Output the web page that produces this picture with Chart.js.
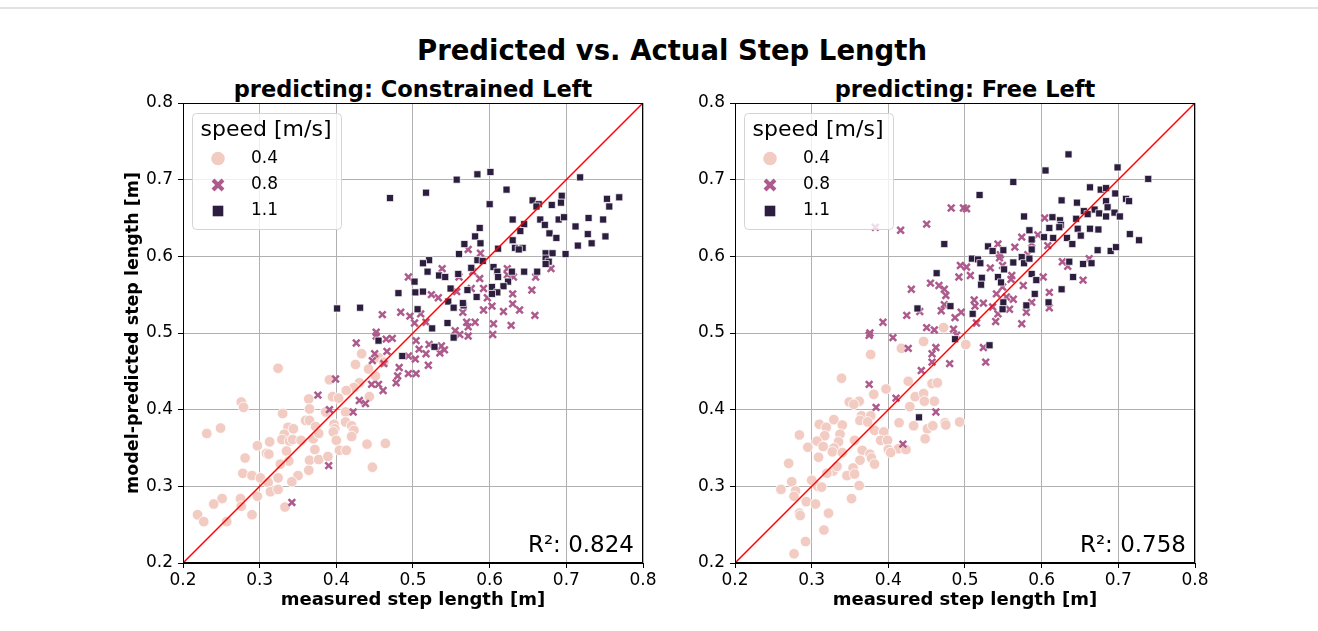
<!DOCTYPE html>
<html>
<head>
<meta charset="utf-8">
<script src="https://cdn.jsdelivr.net/npm/chart.js@4.4.0/dist/chart.umd.min.js"></script>
<style>
  body { margin: 0; background: #fff; font-family: "DejaVu Sans", sans-serif; }
  #page { position: relative; width: 1318px; height: 631px; overflow: hidden; }
  .frame { position: absolute; left: 0; top: 7px; width: 1318px; border-top: 2px solid #e2e2e2; }
  .txt { position: absolute; white-space: nowrap; line-height: 1; font-weight: bold; color: #000; transform: translateX(-50%); }
  canvas { position: absolute; top: 0; }
</style>
</head>
<body>
<div id="page">
  <div class="frame"></div>
  <div class="txt" style="left:672px;top:37px;font-size:27.5px">Predicted vs. Actual Step Length</div>
  <div class="txt" style="left:413px;top:78px;font-size:22.5px">predicting: Constrained Left</div>
  <div class="txt" style="left:965px;top:78px;font-size:22.5px">predicting: Free Left</div>
  <canvas id="leftChart" width="660" height="631" style="left:0"></canvas>
  <canvas id="rightChart" width="659" height="631" style="left:659px"></canvas>
</div>
<script>
// tick values / labels, shared by both panels
const axisTicks = [0.2, 0.3, 0.4, 0.5, 0.6, 0.7, 0.8];
const speeds = ['0.4', '0.8', '1.1'];
const r2Values = ['0.824', '0.758'];
const diagonal = [0.2, 0.8];

// [measured, predicted] per speed, left panel (Constrained Left)
const constrained04 = [
  [0.324,0.454],[0.433,0.473],[0.425,0.459],[0.442,0.453],[0.451,0.444],[0.391,0.439],[0.430,0.435],
  [0.423,0.429],[0.413,0.425],[0.443,0.417],[0.395,0.417],[0.403,0.415],[0.364,0.414],[0.276,0.410],
  [0.279,0.403],[0.365,0.401],[0.386,0.397],[0.412,0.397],[0.330,0.395],[0.360,0.386],[0.365,0.386],
  [0.373,0.378],[0.397,0.381],[0.412,0.384],[0.420,0.379],[0.423,0.373],[0.398,0.375],[0.396,0.371],
  [0.231,0.369],[0.249,0.376],[0.337,0.377],[0.344,0.375],[0.332,0.368],[0.329,0.361],[0.339,0.359],
  [0.343,0.361],[0.354,0.360],[0.370,0.362],[0.377,0.369],[0.420,0.365],[0.400,0.360],[0.440,0.355],
  [0.464,0.356],[0.313,0.358],[0.297,0.353],[0.309,0.343],[0.312,0.342],[0.335,0.346],[0.372,0.348],
  [0.404,0.347],[0.413,0.347],[0.281,0.337],[0.338,0.333],[0.365,0.334],[0.377,0.335],[0.389,0.339],
  [0.327,0.329],[0.364,0.321],[0.350,0.314],[0.447,0.325],[0.278,0.317],[0.290,0.314],[0.301,0.311],
  [0.324,0.311],[0.311,0.305],[0.342,0.306],[0.297,0.287],[0.314,0.293],[0.324,0.296],[0.275,0.284],
  [0.251,0.284],[0.276,0.274],[0.240,0.277],[0.290,0.263],[0.333,0.273],[0.219,0.263],[0.227,0.254],
  [0.257,0.254],[0.455,0.468],[0.462,0.462]
];
const constrained08 = [
  [0.494,0.573],[0.460,0.524],[0.484,0.527],[0.496,0.522],[0.452,0.501],
  [0.572,0.609],[0.588,0.604],[0.538,0.584],[0.560,0.573],[0.578,0.580],[0.587,0.571],[0.623,0.584],
  [0.623,0.576],[0.631,0.573],[0.660,0.573],[0.680,0.584],[0.655,0.556],[0.630,0.551],[0.592,0.558],
  [0.597,0.546],[0.576,0.558],[0.557,0.554],[0.524,0.550],[0.533,0.546],[0.630,0.538],[0.639,0.530],
  [0.659,0.523],[0.618,0.528],[0.603,0.535],[0.592,0.530],[0.565,0.527],[0.581,0.514],[0.570,0.514],
  [0.572,0.508],[0.605,0.512],[0.628,0.510],[0.510,0.525],[0.517,0.514],[0.502,0.513],[0.555,0.503],
  [0.426,0.487],[0.452,0.496],[0.465,0.492],[0.473,0.493],[0.450,0.473],[0.466,0.476],[0.447,0.464],
  [0.462,0.460],[0.494,0.470],[0.482,0.455],[0.480,0.444],[0.494,0.447],[0.478,0.435],[0.446,0.433],
  [0.455,0.433],[0.461,0.425],[0.399,0.440],[0.376,0.419],[0.430,0.412],[0.438,0.408],[0.391,0.400],
  [0.422,0.397],[0.390,0.327],[0.342,0.279],
  [0.504,0.490],[0.521,0.485],[0.508,0.479],[0.517,0.473],[0.537,0.483],[0.535,0.474],[0.541,0.478],
  [0.503,0.466],[0.520,0.458],[0.504,0.447],[0.572,0.496],[0.604,0.498],[0.561,0.498]
];
const constrained11 = [
  [0.470,0.676],[0.481,0.552],[0.401,0.532],[0.431,0.533],[0.455,0.490],[0.486,0.470],[0.553,0.494],
  [0.528,0.482],[0.557,0.700],[0.584,0.707],[0.601,0.710],[0.517,0.683],[0.718,0.703],[0.622,0.687],
  [0.600,0.668],[0.694,0.679],[0.693,0.670],[0.656,0.673],[0.664,0.668],[0.661,0.665],[0.681,0.667],
  [0.753,0.675],[0.769,0.677],[0.756,0.665],[0.630,0.648],[0.645,0.642],[0.666,0.648],[0.690,0.648],
  [0.697,0.651],[0.729,0.650],[0.748,0.648],[0.672,0.641],[0.712,0.639],[0.587,0.637],[0.640,0.633],
  [0.678,0.630],[0.687,0.624],[0.728,0.629],[0.751,0.626],[0.733,0.617],[0.715,0.614],[0.581,0.626],
  [0.567,0.616],[0.588,0.617],[0.630,0.621],[0.633,0.611],[0.643,0.611],[0.638,0.609],[0.611,0.610],
  [0.560,0.603],[0.584,0.595],[0.591,0.594],[0.673,0.604],[0.682,0.604],[0.699,0.603],[0.673,0.597],
  [0.677,0.593],[0.673,0.590],[0.521,0.595],[0.513,0.591],[0.519,0.580],[0.534,0.575],[0.542,0.573],
  [0.576,0.585],[0.605,0.586],[0.610,0.580],[0.611,0.573],[0.629,0.580],[0.645,0.580],[0.662,0.580],
  [0.624,0.567],[0.618,0.561],[0.603,0.560],[0.610,0.553],[0.603,0.551],[0.549,0.558],[0.571,0.556],
  [0.502,0.567],[0.503,0.553],[0.513,0.554],[0.583,0.547],[0.546,0.541],[0.566,0.536],[0.553,0.533],
  [0.506,0.531],[0.545,0.513],[0.525,0.506],[0.559,0.577],[0.565,0.539]
];

// right panel (Free Left)
const free04 = [
  [0.377,0.472],[0.417,0.480],[0.446,0.489],[0.339,0.441],[0.397,0.427],[0.381,0.420],[0.426,0.437],
  [0.435,0.417],[0.446,0.421],[0.457,0.434],[0.464,0.435],[0.460,0.411],[0.447,0.411],[0.428,0.404],
  [0.349,0.410],[0.362,0.411],[0.355,0.407],[0.365,0.392],[0.377,0.392],[0.363,0.386],[0.373,0.384],
  [0.310,0.381],[0.329,0.387],[0.340,0.380],[0.319,0.377],[0.414,0.383],[0.433,0.379],[0.451,0.375],
  [0.458,0.379],[0.474,0.383],[0.475,0.380],[0.493,0.384],[0.382,0.373],[0.394,0.371],[0.284,0.367],
  [0.317,0.366],[0.337,0.368],[0.307,0.359],[0.335,0.358],[0.356,0.360],[0.390,0.360],[0.399,0.360],
  [0.448,0.362],[0.295,0.351],[0.315,0.352],[0.329,0.350],[0.413,0.349],[0.423,0.348],[0.400,0.348],
  [0.327,0.345],[0.340,0.344],[0.366,0.347],[0.403,0.344],[0.376,0.342],[0.309,0.338],[0.363,0.334],
  [0.378,0.337],[0.382,0.329],[0.270,0.330],[0.328,0.320],[0.333,0.326],[0.320,0.317],[0.354,0.324],
  [0.346,0.314],[0.356,0.316],[0.274,0.306],[0.300,0.308],[0.308,0.300],[0.313,0.299],[0.362,0.301],
  [0.260,0.296],[0.279,0.294],[0.277,0.287],[0.293,0.280],[0.305,0.277],[0.352,0.284],[0.284,0.265],
  [0.285,0.262],[0.322,0.265],[0.316,0.243],[0.292,0.228],[0.277,0.212],[0.472,0.507],[0.501,0.485]
];
const free08 = [
  [0.482,0.663],[0.498,0.663],[0.450,0.642],[0.416,0.634],[0.383,0.638],[0.494,0.588],[0.492,0.573],
  [0.455,0.565],[0.466,0.562],[0.430,0.557],[0.473,0.557],[0.475,0.549],[0.473,0.537],[0.469,0.529],
  [0.495,0.527],[0.441,0.528],[0.424,0.523],[0.393,0.514],[0.487,0.520],[0.450,0.507],[0.460,0.504],
  [0.376,0.500],[0.485,0.505],
  [0.502,0.662],[0.604,0.650],[0.595,0.628],[0.574,0.625],[0.565,0.612],[0.543,0.616],[0.587,0.617],
  [0.608,0.614],[0.546,0.602],[0.545,0.598],[0.582,0.602],[0.549,0.588],[0.533,0.585],[0.502,0.586],
  [0.507,0.575],[0.561,0.575],[0.560,0.570],[0.602,0.573],[0.627,0.593],[0.634,0.587],[0.662,0.597],
  [0.654,0.569],[0.576,0.562],[0.549,0.560],[0.541,0.551],[0.554,0.547],[0.563,0.544],[0.610,0.553],
  [0.512,0.543],[0.513,0.535],[0.524,0.539],[0.536,0.534],[0.558,0.531],[0.587,0.540],[0.610,0.533],
  [0.580,0.527],[0.543,0.525],[0.540,0.515],[0.515,0.513],[0.574,0.512],
  [0.375,0.497],[0.406,0.494],[0.426,0.480],[0.462,0.481],[0.457,0.473],[0.457,0.462],[0.480,0.460],
  [0.443,0.451],[0.375,0.433],[0.410,0.415],[0.384,0.403],[0.462,0.397],[0.419,0.355],[0.489,0.497],
  [0.524,0.481],[0.527,0.462]
];
const free11 = [
  [0.473,0.616],[0.463,0.578],[0.438,0.532],[0.481,0.535],[0.440,0.390],[0.487,0.492],[0.532,0.484],
  [0.635,0.733],[0.699,0.716],[0.605,0.712],[0.739,0.701],[0.563,0.697],[0.519,0.680],[0.663,0.690],
  [0.677,0.687],[0.684,0.689],[0.696,0.682],[0.626,0.673],[0.646,0.670],[0.684,0.672],[0.710,0.675],
  [0.714,0.672],[0.686,0.664],[0.669,0.661],[0.675,0.656],[0.695,0.657],[0.684,0.652],[0.702,0.652],
  [0.655,0.659],[0.645,0.649],[0.660,0.655],[0.577,0.652],[0.614,0.651],[0.624,0.647],[0.625,0.641],
  [0.623,0.638],[0.610,0.637],[0.647,0.636],[0.663,0.636],[0.674,0.635],[0.651,0.627],[0.584,0.634],
  [0.587,0.622],[0.603,0.625],[0.615,0.624],[0.633,0.624],[0.640,0.616],[0.715,0.629],[0.727,0.621],
  [0.673,0.608],[0.690,0.607],[0.697,0.612],[0.530,0.613],[0.536,0.607],[0.550,0.608],[0.587,0.609],
  [0.509,0.597],[0.517,0.596],[0.520,0.591],[0.563,0.592],[0.574,0.599],[0.577,0.591],[0.584,0.597],
  [0.551,0.583],[0.636,0.593],[0.654,0.590],[0.665,0.591],[0.522,0.572],[0.543,0.573],[0.587,0.577],
  [0.593,0.569],[0.641,0.573],[0.521,0.563],[0.547,0.566],[0.626,0.557],[0.591,0.551],[0.550,0.540],
  [0.609,0.540],[0.549,0.531],[0.580,0.536],[0.510,0.525]
];

const fontFamily = '"DejaVu Sans", sans-serif';
const speedColors = { '0.4': '#f2cbc2', '0.8': '#ad5a8c', '1.1': '#2d1e3f' };

function speedDataset(points, speed, order) {
  const base = {
    label: speed,
    data: points.map(([x, y]) => ({ x, y })),
    order: order,
    pointBackgroundColor: speedColors[speed],
    pointHoverRadius: 0
  };
  if (speed === '0.4') {
    return Object.assign(base, { pointStyle: 'circle', pointRadius: 5.3, pointBorderColor: '#ffffff', pointBorderWidth: 0.8 });
  }
  if (speed === '0.8') {
    return Object.assign(base, { pointStyle: 'crossRot', pointRadius: 4.7, pointBorderColor: speedColors[speed], pointBorderWidth: 2.5 });
  }
  return Object.assign(base, { pointStyle: 'rect', pointRadius: 5, pointBorderColor: 'rgba(255,255,255,0.9)', pointBorderWidth: 0.8 });
}

function drawLegendMarker(ctx, speed, x, y) {
  ctx.fillStyle = speedColors[speed];
  ctx.strokeStyle = speedColors[speed];
  if (speed === '0.4') {
    ctx.beginPath(); ctx.arc(x, y, 6.8, 0, Math.PI * 2); ctx.fill();
  } else if (speed === '0.8') {
    ctx.lineWidth = 4;
    ctx.beginPath();
    ctx.moveTo(x - 5, y - 5); ctx.lineTo(x + 5, y + 5);
    ctx.moveTo(x - 5, y + 5); ctx.lineTo(x + 5, y - 5);
    ctx.stroke();
  } else {
    ctx.fillRect(x - 5.3, y - 5.3, 10.6, 10.6);
  }
}

function panelExtras(r2) {
  return {
    id: 'panelExtras',
    afterDatasetsDraw(chart) {
      const { ctx, chartArea: a } = chart;
      ctx.save();

      // legend box
      const lx = a.left + 9, ly = a.top + 10;
      ctx.beginPath();
      ctx.roundRect(lx + 0.5, ly + 0.5, 149, 116, 4);
      ctx.fillStyle = 'rgba(255,255,255,0.8)';
      ctx.fill();
      ctx.strokeStyle = '#d4d4d4';
      ctx.lineWidth = 1;
      ctx.stroke();

      ctx.fillStyle = '#000';
      ctx.font = '22px ' + fontFamily;
      ctx.textAlign = 'center';
      ctx.textBaseline = 'alphabetic';
      ctx.fillText('speed [m/s]', a.left + 83, a.top + 33);

      const rows = [55.5, 82, 108];
      speeds.forEach((s, i) => {
        drawLegendMarker(ctx, s, a.left + 35, a.top + rows[i]);
        ctx.fillStyle = '#000';
        ctx.font = '17px ' + fontFamily;
        ctx.textAlign = 'left';
        ctx.textBaseline = 'middle';
        ctx.fillText(s, a.left + 68, a.top + rows[i]);
      });

      // R² annotation
      ctx.font = '23px ' + fontFamily;
      ctx.textAlign = 'right';
      ctx.textBaseline = 'alphabetic';
      ctx.fillStyle = '#000';
      ctx.fillText('R²: ' + r2, a.right - 9, a.bottom - 11);

      // full box of spines
      ctx.strokeStyle = '#000';
      ctx.lineWidth = 1;
      ctx.strokeRect(a.left + 0.5, a.top + 0.5, a.width - 1, a.height - 1);
      ctx.restore();
    }
  };
}

function makePanel(canvasId, d04, d08, d11, r2, pad, yWidth, showYTitle) {
  const tickFont = { family: fontFamily, size: 17 };
  const gridOpts = { color: '#b0b0b0', lineWidth: 1, tickColor: '#000', tickLength: 5 };
  const setTicks = s => { s.ticks = axisTicks.map(v => ({ value: v })); };

  new Chart(document.getElementById(canvasId), {
    type: 'scatter',
    data: {
      datasets: [
        {
          label: 'y = x',
          data: diagonal.map(v => ({ x: v, y: v })),
          showLine: true,
          borderColor: '#ff0000',
          borderWidth: 1.5,
          pointRadius: 0,
          order: 0
        },
        speedDataset(d11, '1.1', 1),
        speedDataset(d08, '0.8', 2),
        speedDataset(d04, '0.4', 3)
      ]
    },
    options: {
      responsive: false,
      animation: false,
      devicePixelRatio: 1,
      events: [],
      layout: { padding: pad },
      plugins: { legend: { display: false }, tooltip: { enabled: false } },
      scales: {
        x: {
          type: 'linear',
          min: axisTicks[0],
          max: axisTicks[axisTicks.length - 1],
          afterBuildTicks: setTicks,
          afterFit: s => { s.height = 48; },
          grid: gridOpts,
          border: { color: '#000', width: 1 },
          ticks: { font: tickFont, color: '#000', padding: 2, callback: v => v.toFixed(1) },
          title: { display: true, text: 'measured step length [m]', font: { family: fontFamily, size: 18, weight: 'bold' }, color: '#000', padding: 0 }
        },
        y: {
          type: 'linear',
          min: axisTicks[0],
          max: axisTicks[axisTicks.length - 1],
          afterBuildTicks: setTicks,
          afterFit: s => { s.width = yWidth; },
          grid: gridOpts,
          border: { color: '#000', width: 1 },
          ticks: { font: tickFont, color: '#000', padding: 5, callback: v => v.toFixed(1) },
          title: { display: showYTitle, text: 'model-predicted step length [m]', font: { family: fontFamily, size: 17.5, weight: 'bold' }, color: '#000', padding: { top: 3, bottom: 0 } }
        }
      }
    },
    plugins: [panelExtras(r2)]
  });
}

makePanel('leftChart', constrained04, constrained08, constrained11, r2Values[0],
  { left: 120, right: 17, top: 103, bottom: 20 }, 63, true);
makePanel('rightChart', free04, free08, free11, r2Values[1],
  { left: 36, right: 123, top: 103, bottom: 20 }, 40, false);
</script>
</body>
</html>
